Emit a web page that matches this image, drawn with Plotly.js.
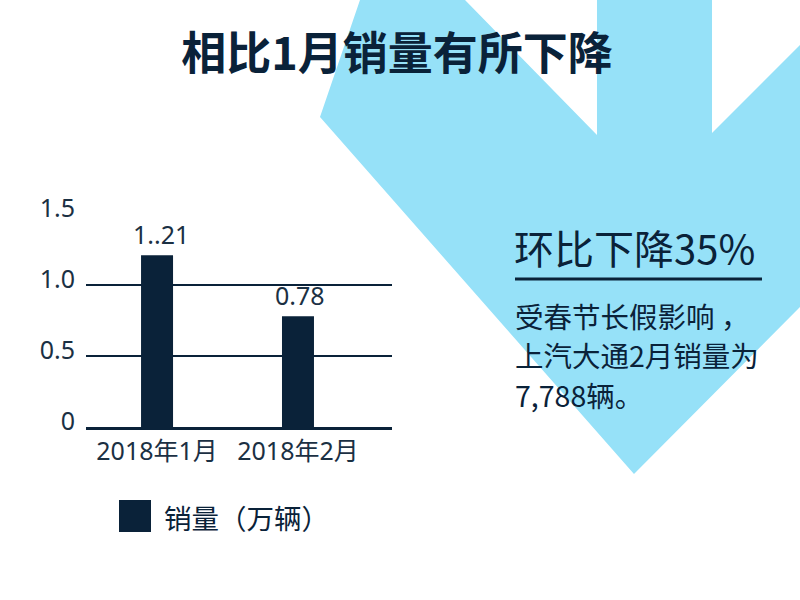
<!DOCTYPE html>
<html>
<head>
<meta charset="utf-8">
<script src="https://cdn.plot.ly/plotly-3.0.1.min.js"></script>
<style>html,body{margin:0;padding:0;background:#fff;}#chart{width:800px;height:600px;}</style>
</head>
<body>
<div id="chart"></div>
<script>
// ---- data ----
const categories = ["2018年1月", "2018年2月"];
const sales = [1.21, 0.78];
const salesLabels = ["1..21", "0.78"];
const seriesName = "销量（万辆）";
const yTickVals = [0, 0.5, 1.0, 1.5];
const yTickText = ["0", "0.5", "1.0", "1.5"];
const chartTitle = "相比1月销量有所下降";
const headline = "环比下降35%";
const bodyLines = ["受春节长假影响 ，", "上汽大通2月销量为", "7,788辆。"];

// ---- styling ----
const NAVY = "#0a2239";
const TXT = "#1b3043";
const BLUE = "#96e1f8";
const FONT = "Noto Sans, Noto Sans CJK SC, sans-serif";
const CJK = "Noto Sans CJK SC, Noto Sans, sans-serif";

const W = 800, H = 600;
const M = {l: 86, r: 408, t: 214, b: 173};
const PW = W - M.l - M.r, PH = H - M.t - M.b;
const px = x => (x - M.l) / PW;
const py = y => 1 - (y - M.t) / PH;

// background arrow (pixel outline converted to paper coords)
const arrowPts = [[360,0],[465,0],[597,135],[597,0],[712,0],[712,133],[800,45],[800,307],[634,474],[320,117]];
const arrowPath = "M " + arrowPts.map(p => px(p[0]).toFixed(4) + "," + py(p[1]).toFixed(4)).join(" L ") + " Z";

const trace = {
  type: "bar",
  x: categories,
  y: sales,
  name: seriesName,
  marker: {color: NAVY},
  width: 0.227,
  hoverinfo: "x+y",
  showlegend: false
};

const annotations = [];
categories.forEach((c, i) => {
  annotations.push({
    x: c, y: sales[i], xref: "x", yref: "y",
    text: salesLabels[i], showarrow: false,
    yanchor: "bottom", yshift: 2, xshift: i === 0 ? 4 : 2,
    font: {family: FONT, size: 25, color: TXT}
  });
});
annotations.push({
  xref: "paper", yref: "paper", x: px(512), y: py(247),
  xanchor: "left", yanchor: "middle", text: headline, showarrow: false,
  font: {family: CJK, size: 40, color: NAVY}
});
bodyLines.forEach((t, i) => {
  annotations.push({
    xref: "paper", yref: "paper", x: px(513), y: py(315 + i * 39.5),
    xanchor: "left", yanchor: "middle", text: t, showarrow: false,
    font: {family: CJK, size: 28.5, color: NAVY}
  });
});
annotations.push({
  xref: "paper", yref: "paper", x: px(162), y: py(517),
  xanchor: "left", yanchor: "middle", text: seriesName, showarrow: false,
  font: {family: CJK, size: 27.5, color: NAVY}
});

const shapes = [
  {type: "path", xref: "paper", yref: "paper", path: arrowPath,
   fillcolor: BLUE, line: {width: 0}, layer: "below"},
  {type: "line", xref: "paper", yref: "paper", x0: px(515), x1: px(762), y0: py(279), y1: py(279),
   line: {color: NAVY, width: 3}},
  {type: "rect", xref: "paper", yref: "paper", x0: px(119), x1: px(151), y0: py(500), y1: py(532),
   fillcolor: NAVY, line: {width: 0}}
];

const layout = {
  width: W, height: H,
  margin: M,
  paper_bgcolor: "rgba(0,0,0,0)",
  plot_bgcolor: "rgba(0,0,0,0)",
  title: {
    text: chartTitle, x: 397 / W, xanchor: "center", xref: "container",
    y: 1 - 54 / H, yanchor: "middle", yref: "container",
    font: {family: CJK, size: 45, color: NAVY, weight: 700}
  },
  xaxis: {
    type: "category", range: [-0.504, 1.667],
    showline: true, linecolor: NAVY, linewidth: 3,
    showgrid: false, ticks: "", fixedrange: true,
    tickfont: {family: FONT, size: 25, color: TXT}
  },
  yaxis: {
    range: [0, 1.5], tickvals: yTickVals, ticktext: yTickText,
    showgrid: true, gridcolor: NAVY, gridwidth: 1.2, zeroline: false,
    showline: false, ticks: "", ticklabelstandoff: 10, ticklabelshift: -6,
    tickfont: {family: FONT, size: 25, color: TXT}, fixedrange: true
  },
  showlegend: false,
  annotations: annotations,
  shapes: shapes
};

Plotly.newPlot("chart", [trace], layout, {displayModeBar: false, staticPlot: true});
</script>
</body>
</html>
